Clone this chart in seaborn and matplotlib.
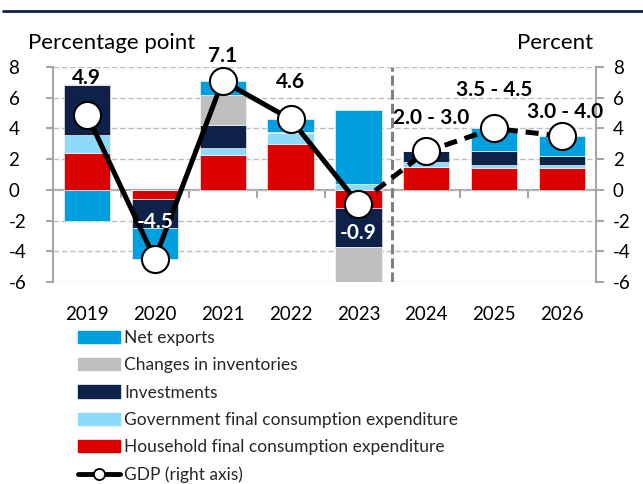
import matplotlib
matplotlib.use("Agg")
import matplotlib.pyplot as plt
from matplotlib.lines import Line2D
from matplotlib.patches import Patch
import numpy as np
import seaborn as sns

years = ["2019", "2020", "2021", "2022", "2023", "2024", "2025", "2026"]
household = [2.4, -0.6, 2.3, 3.0, -1.2, 1.5, 1.4, 1.4]
government = [1.2, 0.0, 0.4, 0.7, 0.4, 0.3, 0.2, 0.2]
investments = [3.2, -1.9, 1.5, 0.0, -2.5, 0.7, 0.9, 0.6]
inventories = [0.1, 0.0, 2.0, 0.1, -2.3, 0.0, 0.0, 0.0]
net_exports = [-2.0, -2.0, 0.9, 0.8, 4.8, 0.0, 1.5, 1.3]
gdp = [4.9, -4.5, 7.1, 4.6, -0.9, 2.5, 4.0, 3.5]
gdp_labels = ["4.9", "-4.5", "7.1", "4.6", "-0.9", "2.0 - 3.0", "3.5 - 4.5", "3.0 - 4.0"]
n_actual = 5  # 2019-2023 actual, rest forecast

# label placement (layout only)
label_y = [7.3, -2.1, 8.7, 7.0, -2.8, 4.65, 6.5, 5.07]
label_dx = [0, 0, 0, 0, 0, 0.07, 0, 0.05]
label_color = ["black", "white", "black", "black", "white", "black", "black", "black"]

sns.set_theme(style="white")
plt.rcParams["font.family"] = ["Lato", "DejaVu Sans"]
plt.rcParams["axes.unicode_minus"] = False

GRAY = "#A6A6A6"
FS = 13

fig = plt.figure(figsize=(6.43, 4.84), dpi=100)
ax = fig.add_axes([53 / 643, 1 - 282 / 484, 543 / 643, 215 / 484])

components = [
    ("Household final consumption expenditure", household, "#DA0000"),
    ("Government final consumption expenditure", government, "#8EDBF9"),
    ("Investments", investments, "#0D2149"),
    ("Changes in inventories", inventories, "#BFBFBF"),
    ("Net exports", net_exports, "#009FDF"),
]

x = np.arange(len(years))
pos = np.zeros(len(years))
neg = np.zeros(len(years))
for name, vals, color in components:
    v = np.array(vals)
    bottom = np.where(v >= 0, pos, neg)
    ax.bar(x, v, bottom=bottom, width=0.68, color=color,
           edgecolor="white", linewidth=0.4, zorder=2)
    pos += np.clip(v, 0, None)
    neg += np.clip(v, None, 0)

ax.set_xlim(-0.5, len(years) - 0.5)
ax.set_ylim(-6, 8)
ax.set_yticks(range(-6, 9, 2))
ax.set_xticks(x)
ax.set_xticklabels(years)
ax.tick_params(axis="x", length=0, pad=17, labelsize=FS + 0.5, labelcolor="black")
ax.tick_params(axis="y", left=True, length=5, width=1.5, color=GRAY,
               pad=27, labelsize=FS + 0.5, labelcolor="black")
for lab in ax.get_yticklabels():
    lab.set_horizontalalignment("left")
ax.set_axisbelow(True)
ax.yaxis.grid(True, color="#BFBFBF", lw=1, ls=(0, (4, 2)))
for s in ["top", "bottom", "right"]:
    ax.spines[s].set_visible(False)
ax.spines["left"].set_color(GRAY)
ax.spines["left"].set_linewidth(1.5)

# zero line with category separators
sec = ax.secondary_xaxis(6 / 14)
sec.set_xticks(np.arange(0.5, len(years) - 0.5, 1))
sec.tick_params(axis="x", length=6, width=1.5, color=GRAY, labelbottom=False)
sec.spines["bottom"].set_color(GRAY)
sec.spines["bottom"].set_linewidth(1.5)

# forecast separator
ax.axvline(n_actual - 0.5, color="#7F7F7F", lw=2.2, ls=(0, (3.3, 1.3)), zorder=3)

# GDP on right axis
ax2 = ax.twinx()
ax2.set_ylim(-6, 8)
ax2.set_yticks(range(-6, 9, 2))
ax2.tick_params(axis="y", right=True, length=6, width=1.5, color=GRAY,
                pad=6, labelsize=FS + 0.5, labelcolor="black")
ax2.grid(False)
for s in ["top", "bottom", "left"]:
    ax2.spines[s].set_visible(False)
ax2.spines["right"].set_color(GRAY)
ax2.spines["right"].set_linewidth(1.5)

sns.lineplot(x=x[n_actual - 1:], y=gdp[n_actual - 1:], ax=ax2, color="black",
             lw=3.6, ls=(0, (2.6, 1.6)), zorder=4)
sns.lineplot(x=x[:n_actual], y=gdp[:n_actual], ax=ax2, color="black",
             lw=3.6, zorder=4)
ax2.scatter(x, gdp, s=19.5 ** 2, facecolor="white", edgecolor="black",
            linewidth=1.5, zorder=5)

for i, lab in enumerate(gdp_labels):
    ax2.text(x[i] + label_dx[i], label_y[i], lab, ha="center", va="center",
             fontsize=15, fontweight="bold", color=label_color[i],
             zorder=6, clip_on=False)

fig.text(28 / 643, 1 - 43 / 484, "Percentage point", fontsize=16,
         ha="left", va="center", color="black")
fig.text(593 / 643, 1 - 43 / 484, "Percent", fontsize=16,
         ha="right", va="center", color="black")

# top rule
fig.add_artist(Line2D([3 / 643, 1], [1 - 11 / 484, 1 - 11 / 484],
                      color="#0D2149", lw=2, transform=fig.transFigure))

handles = [Patch(color=c, label=n) for n, _, c in components[::-1]]
handles.append(Line2D([], [], color="black", lw=3.5, marker="o", ms=8,
                      mfc="white", mec="black", mew=1.3, label="GDP (right axis)"))
fig.legend(handles=handles, loc="upper left",
           bbox_to_anchor=(78 / 643, 1 - 330 / 484), frameon=False,
           fontsize=12.5, handlelength=2.4, handleheight=0.7,
           handletextpad=0.25, labelspacing=0.65, borderpad=0,
           borderaxespad=0)

fig.savefig("out.png", dpi=100)
